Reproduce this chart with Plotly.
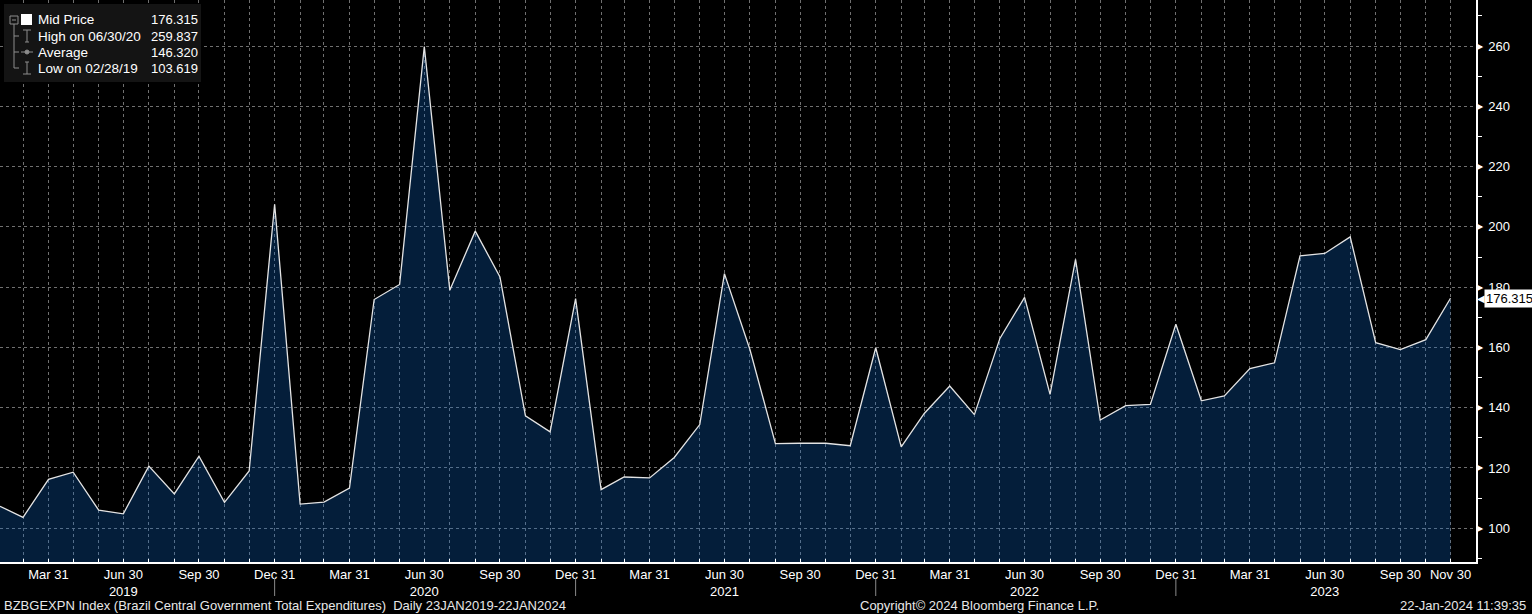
import pandas as pd
import plotly.graph_objects as go

# ---------------- data ----------------
dates = pd.date_range("2019-01-31", "2023-11-30", freq="ME")
values = [
    107.3, 103.619, 116.2, 118.6, 106.0, 104.8, 120.6, 111.4, 123.9, 108.6, 119.0, 207.5,
    108.0, 108.7, 113.3, 175.9, 180.9, 259.837, 179.0, 198.6, 183.4, 137.3, 132.0, 176.2,
    112.8, 117.0, 116.7, 123.5, 134.4, 184.5, 159.3, 128.1, 128.2, 128.2, 127.4, 159.9,
    127.0, 138.1, 147.2, 137.7, 163.0, 176.6, 144.4, 189.2, 135.9, 140.7, 141.1, 167.7,
    142.3, 143.9, 153.0, 154.9, 190.4, 191.2, 196.7, 161.6, 159.3, 162.6, 176.315,
]
y_ticks = [100, 120, 140, 160, 180, 200, 220, 240, 260]
legend_rows = [
    ("Mid Price", "176.315"),
    ("High on 06/30/20", "259.837"),
    ("Average", "146.320"),
    ("Low on 02/28/19", "103.619"),
]
footer_left = "BZBGEXPN Index (Brazil Central Government Total Expenditures)  Daily 23JAN2019-22JAN2024"
footer_mid = "Copyright\u00a9 2024 Bloomberg Finance L.P."
footer_right = "22-Jan-2024 11:39:35"

# ---------------- geometry ----------------
W, H = 1532, 614
ML, MR, MT, MB = 0, 56, 0, 52
PW, PH = W - ML - MR, H - MT - MB
FONT = "Liberation Sans, Arial, sans-serif"


def px(x):
    return (x - ML) / PW


def py(y):
    return 1 - (y - MT) / PH


# tick labels for x axis
tick_text = []
for d in dates:
    if d.month == 3:
        tick_text.append("Mar 31")
    elif d.month == 6:
        tick_text.append(f"Jun 30<br>{d.year}")
    elif d.month == 9:
        tick_text.append("Sep 30")
    elif d.month == 12:
        tick_text.append("Dec 31")
    elif d == dates[-1]:
        tick_text.append(f"{d.strftime('%b')} {d.day}")
    else:
        tick_text.append("")

fig = go.Figure()
fig.add_trace(go.Scatter(
    x=dates, y=values, mode="lines",
    line=dict(color="#e4e4e4", width=1.3),
    fill="tozeroy", fillcolor="rgba(14,107,207,0.28)",
    hoverinfo="skip", showlegend=False,
))

grid_col = "#707070"
fig.update_xaxes(
    range=[dates[0], dates[-1] + pd.offsets.MonthEnd(1)],
    tickmode="array", tickvals=dates, ticktext=tick_text,
    showgrid=True, gridcolor=grid_col, griddash="dot", gridwidth=1,
    ticks="inside", ticklen=3, tickcolor="white", tickwidth=1,
    showline=True, linecolor="white", linewidth=1.5,
    tickfont=dict(family=FONT, size=13, color="white"),
    zeroline=False,
)
fig.update_yaxes(
    side="right", range=[88.8, 275.3],
    tickmode="array", tickvals=y_ticks,
    showgrid=True, gridcolor=grid_col, griddash="dot", gridwidth=1,
    ticks="outside", ticklen=8, tickcolor="rgba(0,0,0,0)",
    minor=dict(dtick=10, tick0=0, ticks="outside", ticklen=4, tickcolor="white", showgrid=False),
    showline=True, linecolor="white", linewidth=1.5,
    tickfont=dict(family=FONT, size=13, color="white"),
    zeroline=False,
)

shapes = []
annotations = []

# y tick triangles
for t in y_ticks:
    annotations.append(dict(xref="paper", yref="y", x=1, y=t, text="\u25B6", showarrow=False,
                            xanchor="left", yanchor="middle", xshift=-1,
                            font=dict(family="DejaVu Sans", size=8, color="white")))

# last value box
last = values[-1]
annotations.append(dict(xref="paper", yref="y", x=1, y=last, text="\u25C0", showarrow=False,
                        xanchor="left", yanchor="middle", xshift=-1,
                        font=dict(family="DejaVu Sans", size=10, color="white")))
annotations.append(dict(xref="paper", yref="y", x=1, y=last, text=f"{last:.3f}", showarrow=False,
                        xanchor="left", yanchor="middle", xshift=8,
                        bgcolor="white", borderpad=1,
                        font=dict(family=FONT, size=13, color="black")))

# year separators under Dec 31
for d in dates:
    if d.month == 12:
        shapes.append(dict(type="line", xref="x", yref="paper", x0=d, x1=d,
                           y0=py(578), y1=py(596), line=dict(color="#8a8a8a", width=1)))

# legend box
shapes.append(dict(type="rect", xref="paper", yref="paper", x0=px(4), x1=px(201), y0=py(4), y1=py(82),
                   fillcolor="#141414", line=dict(width=0), layer="above"))
row_y = [20, 36, 52, 68]
for (lab, val), ry in zip(legend_rows, row_y):
    annotations.append(dict(xref="paper", yref="paper", x=px(36), y=py(ry), text=lab, showarrow=False,
                            xanchor="left", yanchor="middle",
                            font=dict(family=FONT, size=13.5, color="white")))
    annotations.append(dict(xref="paper", yref="paper", x=px(149), y=py(ry), text=val, showarrow=False,
                            xanchor="left", yanchor="middle",
                            font=dict(family=FONT, size=13, color="white")))

gray = "#8c8c8c"


def seg(x0, y0, x1, y1, color=gray, w=1):
    shapes.append(dict(type="line", xref="paper", yref="paper", x0=px(x0), y0=py(y0), x1=px(x1), y1=py(y1),
                       line=dict(color=color, width=w), layer="above"))


# collapse box and tree
shapes.append(dict(type="rect", xref="paper", yref="paper", x0=px(10), x1=px(18), y0=py(16), y1=py(24),
                   line=dict(color=gray, width=1), fillcolor="rgba(0,0,0,0)", layer="above"))
seg(12, 20, 16, 20)
seg(14, 24, 14, 68)
for ry in row_y[1:]:
    seg(14, ry, 19, ry)
# white square
shapes.append(dict(type="rect", xref="paper", yref="paper", x0=px(21), x1=px(32), y0=py(14), y1=py(25),
                   fillcolor="white", line=dict(width=0), layer="above"))
# high icon
seg(23, 30, 31, 30)
seg(27, 30, 27, 42)
seg(25, 42, 29, 42)
# average icon
seg(21, 52, 33, 52)
shapes.append(dict(type="circle", xref="paper", yref="paper", x0=px(25), x1=px(29), y0=py(50), y1=py(54),
                   fillcolor=gray, line=dict(color=gray, width=1), layer="above"))
# low icon
seg(25, 62, 29, 62)
seg(27, 62, 27, 74)
seg(23, 74, 31, 74)

# footer
annotations.append(dict(xref="paper", yref="paper", x=px(2), y=py(605), text=footer_left, showarrow=False,
                        xanchor="left", yanchor="middle", font=dict(family=FONT, size=13, color="#e8e8e8")))
annotations.append(dict(xref="paper", yref="paper", x=px(980), y=py(605), text=footer_mid, showarrow=False,
                        xanchor="center", yanchor="middle", font=dict(family=FONT, size=13, color="#e8e8e8")))
annotations.append(dict(xref="paper", yref="paper", x=px(1528), y=py(605), text=footer_right, showarrow=False,
                        xanchor="right", yanchor="middle", font=dict(family=FONT, size=13, color="#e8e8e8")))

fig.update_layout(
    width=W, height=H,
    margin=dict(l=ML, r=MR, t=MT, b=MB, pad=0),
    paper_bgcolor="black", plot_bgcolor="black",
    shapes=shapes, annotations=annotations,
    showlegend=False,
)

fig.write_html(
    "out.html",
    config={"displayModeBar": False},
    post_script="document.body.style.margin='0';document.body.style.background='black';"
                "document.documentElement.style.overflow='hidden';",
)
